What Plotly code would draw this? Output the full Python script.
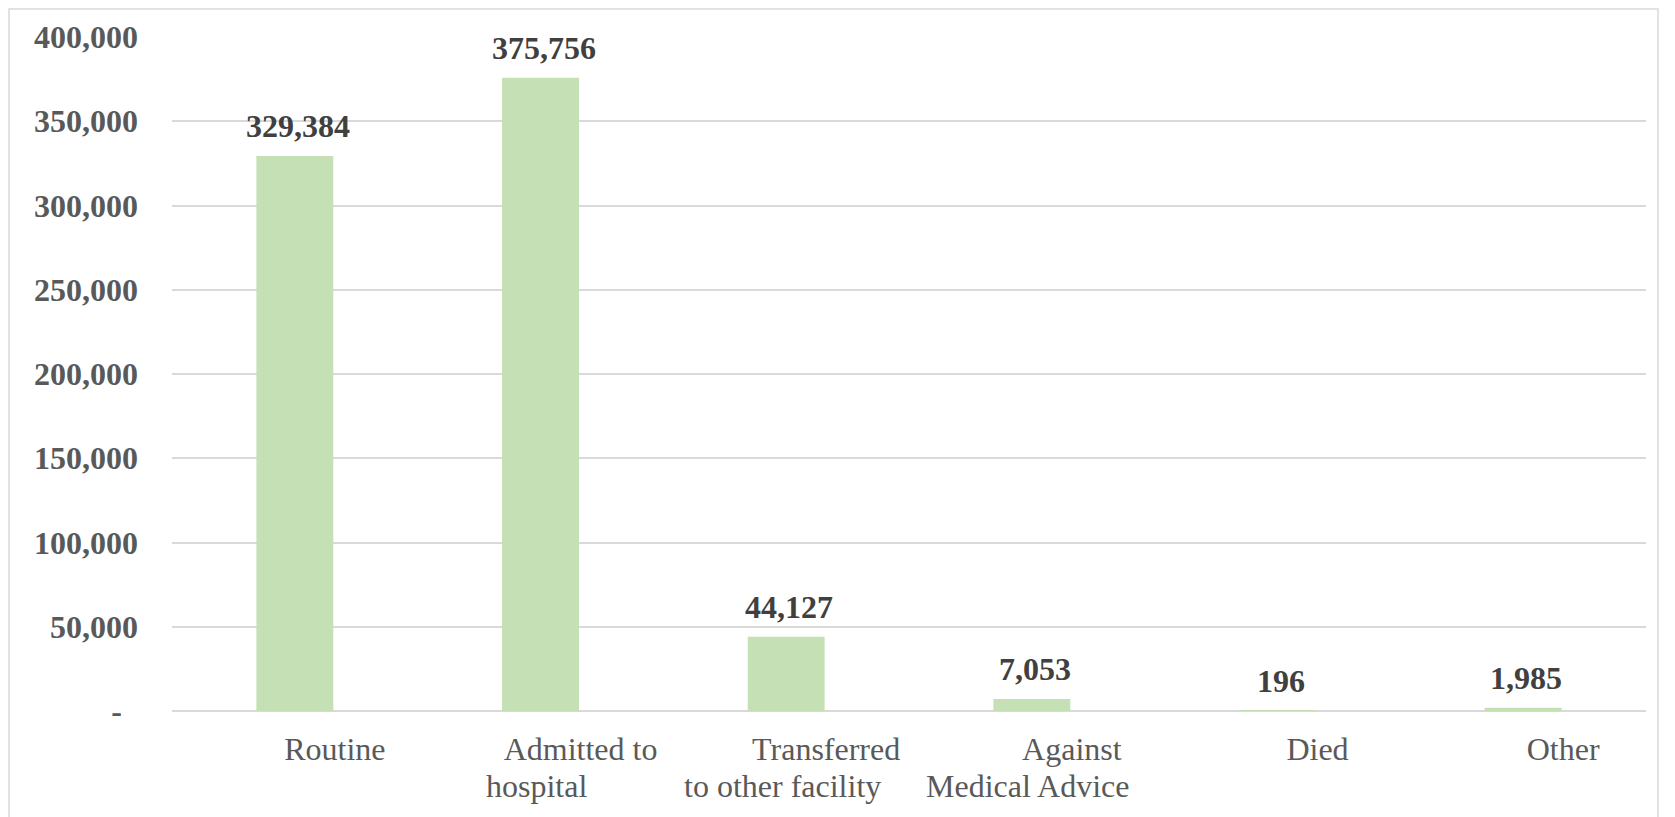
import plotly.graph_objects as go

categories = ["Routine", "Admitted to hospital", "Transferred to other facility",
              "Against Medical Advice", "Died", "Other"]
label_line1 = ["Routine", "Admitted to", "Transferred", "Against", "Died", "Other"]
label_line2 = ["", "hospital", "to other facility", "Medical Advice", "", ""]
values = [329384, 375756, 44127, 7053, 196, 1985]
y_ticks = [0, 50000, 100000, 150000, 200000, 250000, 300000, 350000, 400000]

OFF = 8  # default page body margin
W, H = 1675 - OFF, 817 - OFF
L, R, T, B = 172 - OFF, 29, 37 - OFF, 106

pad = "&nbsp;" * 10
ticktext = [pad + t for t in label_line1]
y_text = [("-&nbsp;&nbsp;" if v == 0 else f"{v:,}") for v in y_ticks]

fig = go.Figure()
fig.add_trace(go.Bar(
    x=categories, y=values,
    marker=dict(color="#c5e0b4", line=dict(width=0)),
    width=0.313,
    hoverinfo="x+y",
))

for c, v in zip(categories, values):
    fig.add_annotation(
        x=c, y=v, text=f"<b>{v:,}</b>", showarrow=False,
        yanchor="bottom", xanchor="center", yshift=10, xshift=3,
        font=dict(family="Liberation Serif", size=32, color="#404040"),
    )

for c, t in zip(categories, label_line2):
    if t:
        fig.add_annotation(
            x=c, y=0, text=t, showarrow=False,
            yanchor="top", xanchor="center", yshift=-55, xshift=-4,
            font=dict(family="Liberation Serif", size=32, color="#595959"),
        )

pw = W - L - R
ph = H - T - B
fig.add_shape(
    type="rect", xref="paper", yref="paper",
    x0=(1 - L) / pw, x1=(1650 - L) / pw,
    y0=(H - B - 840) / ph, y1=(H - B - 1) / ph,
    line=dict(color="#d9d9d9", width=1.5), fillcolor="rgba(0,0,0,0)", layer="below",
)

fig.update_layout(
    width=W, height=H,
    margin=dict(l=L, r=R, t=T, b=B, pad=0),
    paper_bgcolor="white", plot_bgcolor="white",
    showlegend=False,
    bargap=0.687,
    font=dict(family="Liberation Serif", color="#595959"),
)
fig.update_xaxes(
    tickmode="array", tickvals=categories, ticktext=ticktext,
    tickfont=dict(family="Liberation Serif", size=32, color="#595959"),
    showgrid=False, showline=False, ticks="", ticklabelstandoff=16,
    automargin=False,
)
fig.update_yaxes(
    range=[0, 400000], tickmode="array", tickvals=y_ticks, ticktext=y_text,
    tickfont=dict(family="Liberation Serif", size=32, color="#595959", weight="bold"),
    showgrid=True, gridcolor="#d9d9d9", gridwidth=1.5,
    zeroline=True, zerolinecolor="#d9d9d9", zerolinewidth=2,
    showline=False, ticks="", ticklabelstandoff=33,
    automargin=False,
)

fig.write_html("out.html")
